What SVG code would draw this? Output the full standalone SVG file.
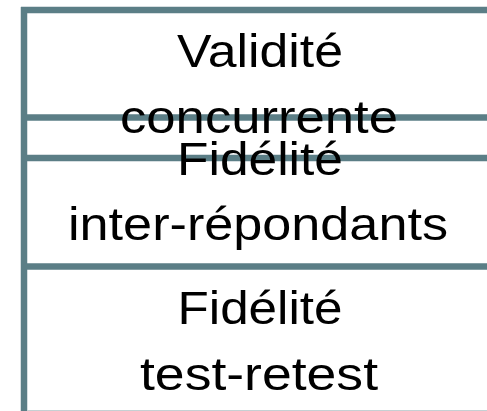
<svg xmlns="http://www.w3.org/2000/svg" width="487" height="411" viewBox="0 0 487 411">
<style>
.ln{stroke:#5B7E86;stroke-width:6.5;fill:none}
.t{font-family:"Liberation Sans",Arial,sans-serif;font-size:47px;fill:#000;text-anchor:middle}
</style>
<rect width="487" height="411" fill="#fff"/>
<g id="connectors">
<line class="ln" x1="21" y1="10" x2="487" y2="10"/>
<line class="ln" x1="24" y1="7" x2="24" y2="411"/>
<line class="ln" x1="24" y1="117.5" x2="487" y2="117.5"/>
<line class="ln" x1="24" y1="158" x2="487" y2="158"/>
<line class="ln" x1="24" y1="266.5" x2="487" y2="266.5"/>
<line x1="27" y1="410.5" x2="487" y2="410.5" stroke="#c5d0d3" stroke-width="1"/>
</g>
<g id="node1">
<text class="t" x="260" y="67" textLength="166" lengthAdjust="spacingAndGlyphs">Validité</text>
<text class="t" x="259" y="133" textLength="278" lengthAdjust="spacingAndGlyphs">concurrente</text>
</g>
<g id="node2">
<text class="t" x="260" y="175" textLength="166" lengthAdjust="spacingAndGlyphs">Fidélité</text>
<text class="t" x="258" y="240" textLength="380" lengthAdjust="spacingAndGlyphs">inter-répondants</text>
</g>
<g id="node3">
<text class="t" x="260" y="324" textLength="165" lengthAdjust="spacingAndGlyphs">Fidélité</text>
<text class="t" x="259" y="390" textLength="238" lengthAdjust="spacingAndGlyphs">test-retest</text>
</g>
</svg>
